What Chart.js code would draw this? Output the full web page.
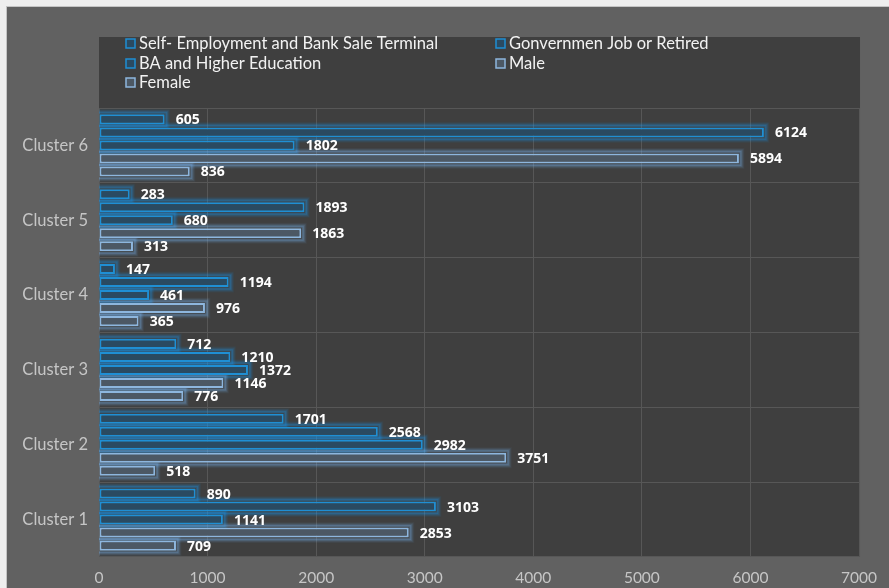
<!DOCTYPE html>
<html>
<head>
<meta charset="utf-8">
<script src="https://cdn.jsdelivr.net/npm/chart.js@4.4.1/dist/chart.umd.min.js"></script>
<style>
  html, body { margin: 0; padding: 0; background: #f0f0f0; }
  #wrap { width: 889px; height: 588px; position: relative; }
</style>
</head>
<body>
<div id="wrap"><canvas id="chart" width="889" height="588"></canvas></div>
<script>
const categories = ["Cluster 1", "Cluster 2", "Cluster 3", "Cluster 4", "Cluster 5", "Cluster 6"];
const seriesNames = [
    "Self- Employment and Bank Sale Terminal",
    "Gonvernmen Job or Retired",
    "BA and Higher Education",
    "Male",
    "Female",
];
const selfEmployment = [890, 1701, 712, 147, 283, 605];
const government = [3103, 2568, 1210, 1194, 1893, 6124];
const higherEducation = [1141, 2982, 1372, 461, 680, 1802];
const male = [2853, 3751, 1146, 976, 1863, 5894];
const female = [709, 518, 776, 365, 313, 836];
const xTicks = [0, 1000, 2000, 3000, 4000, 5000, 6000, 7000];

const blueLine = "#1f8fd4";
const blueFill = "#2a4a61";
const lightLine = "#8db6de";
const lightFill = "#4c5864";

const ctx = document.querySelector("#chart").getContext("2d");

const backdrop = {
    id: "backdrop",
    beforeDraw(chart) {
        const c = chart.ctx;
        const area = chart.chartArea;
        c.save();
        c.fillStyle = "#eeeeee";
        c.fillRect(0, 0, chart.width, chart.height);
        c.fillStyle = "#c4c4c4";
        c.fillRect(6, 6, chart.width, chart.height);
        c.fillStyle = "#616161";
        c.fillRect(7, 7, chart.width, chart.height);
        c.fillStyle = "#3f3f3f";
        c.fillRect(area.left, 37, area.right - area.left + 1, area.bottom - 37);
        c.restore();
    },
};

// soft halo round every bar, drawn before the bars themselves
const glow = {
    id: "glow",
    beforeDatasetsDraw(chart) {
        const c = chart.ctx;
        const area = chart.chartArea;
        const layers = [0.32, 0.2, 0.11, 0.05];
        c.save();
        c.beginPath();
        c.rect(area.left, area.top, area.right - area.left, area.bottom - area.top);
        c.clip();
        chart.data.datasets.forEach((ds, i) => {
            const rgb = i < 3 ? "25,150,235" : "120,180,240";
            chart.getDatasetMeta(i).data.forEach((bar) => {
                const { x, y, base, height } = bar.getProps(["x", "y", "base", "height"], true);
                const top = y - height / 2;
                layers.forEach((a, k) => {
                    const d = k + 1.5;
                    c.strokeStyle = "rgba(" + rgb + "," + a + ")";
                    c.lineWidth = 2;
                    c.strokeRect(base - d, top - d, x - base + 2 * d, height + 2 * d);
                });
            });
        });
        c.restore();
    },
};

const valueLabels = {
    id: "valueLabels",
    afterDatasetsDraw(chart) {
        const c = chart.ctx;
        c.save();
        c.font = "bold 14px 'Open Sans'";
        c.fillStyle = "#ffffff";
        c.textBaseline = "middle";
        chart.data.datasets.forEach((ds, i) => {
            chart.getDatasetMeta(i).data.forEach((bar, j) => {
                c.fillText(ds.data[j], bar.x + 11, bar.y + 1);
            });
        });
        c.restore();
    },
};

const columnLegend = {
    id: "columnLegend",
    afterDraw(chart) {
        const c = chart.ctx;
        const spots = [[126, 44], [496, 44], [126, 64], [496, 64], [126, 83]];
        c.save();
        c.font = "16.5px Lato";
        c.textBaseline = "middle";
        chart.data.datasets.forEach((ds, i) => {
            const [x, y] = spots[i];
            c.fillStyle = ds.backgroundColor;
            c.fillRect(x, y - 5, 9, 9);
            c.strokeStyle = ds.borderColor;
            c.lineWidth = 1.5;
            c.strokeRect(x, y - 5, 9, 9);
            c.fillStyle = "#f2f2f2";
            c.fillText(ds.label, x + 13, y);
        });
        c.restore();
    },
};

const colors = [
    [blueFill, blueLine],
    [blueFill, blueLine],
    [blueFill, blueLine],
    [lightFill, lightLine],
    [lightFill, lightLine],
];
const values = [selfEmployment, government, higherEducation, male, female];

const data = {
    labels: categories,
    datasets: values.map((v, i) => ({
        label: seriesNames[i],
        data: v,
        backgroundColor: colors[i][0],
        borderColor: colors[i][1],
        borderWidth: 2,
        borderSkipped: false,
        categoryPercentage: 0.87,
        barPercentage: 0.77,
    })),
};

const options = {
    indexAxis: "y",
    responsive: false,
    animation: false,
    layout: {
        padding: { top: 108, right: 27, left: 0, bottom: 0 },
    },
    scales: {
        x: {
            min: 0,
            max: 7000,
            afterBuildTicks(scale) {
                scale.ticks = xTicks.map((v) => ({ value: v }));
            },
            afterFit(scale) {
                scale.height = 31;
            },
            grid: { color: "#575757", lineWidth: 1, drawTicks: false },
            border: { display: false },
            ticks: {
                color: "#c6c6c6",
                font: { family: "Lato", size: 15.5 },
                padding: 12,
                callback: (v) => String(v),
            },
        },
        y: {
            reverse: true,
            afterFit(scale) {
                scale.width = 99;
            },
            grid: { color: "#575757", lineWidth: 1, offset: true, drawTicks: false },
            border: { display: false },
            ticks: {
                color: "#c6c6c6",
                font: { family: "Lato", size: 16.5 },
                padding: 11,
            },
        },
    },
    plugins: {
        legend: { display: false },
        tooltip: { enabled: false },
    },
};

new Chart(ctx, {
    type: "bar",
    data: data,
    options: options,
    plugins: [backdrop, glow, valueLabels, columnLegend],
});
</script>
</body>
</html>
